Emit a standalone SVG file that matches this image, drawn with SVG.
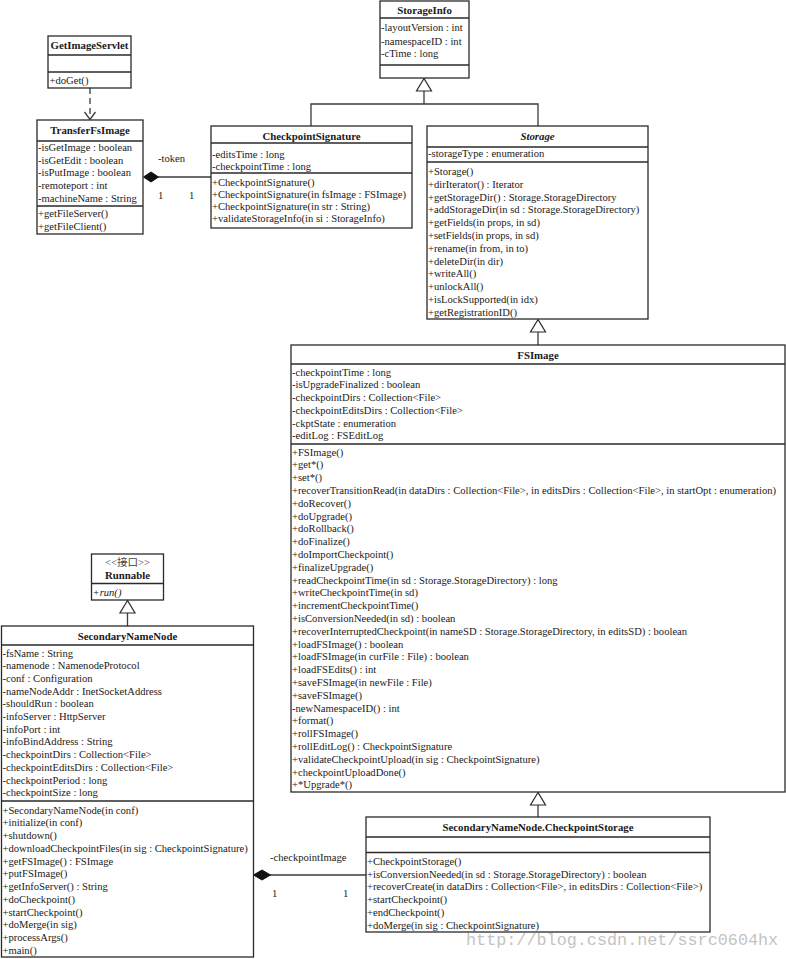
<svg xmlns="http://www.w3.org/2000/svg" width="786" height="959" viewBox="0 0 786 959">
<style>
.box{fill:#fff;stroke:#2a2a2a;stroke-width:1.3}
.div{stroke:#2a2a2a;stroke-width:1.3}
.ln{stroke:#3a3a3a;stroke-width:1.3;fill:none}
.tri{fill:#fff;stroke:#2a2a2a;stroke-width:1.2}
.dia{fill:#111;stroke:#111;stroke-width:1}
text{font-family:"Liberation Serif","Times New Roman",serif;font-size:10.6px;fill:#1a1a1a}
.t{font-weight:bold;text-anchor:middle;font-size:10.8px}
.lbl{font-size:10.6px}
.wm{font-family:"Liberation Mono","Courier New",monospace;font-size:16.8px;fill:#c4c4c4}
</style>
<rect width="786" height="959" fill="#fff"/>

<g id="connectors">
  <line class="ln" x1="90" y1="88" x2="90" y2="119" stroke-dasharray="6,4"/>
  <polyline class="ln" points="84.5,112 90,119.5 95.5,112"/>
  <line class="ln" x1="158" y1="177" x2="211" y2="177"/>
  <polygon class="dia" points="143.5,177 151,172 158.5,177 151,182"/>
  <text x="158" y="162" class="lbl">-token</text>
  <text x="158" y="199" class="lbl">1</text>
  <text x="189" y="199" class="lbl">1</text>
  <polyline class="ln" points="311,126 311,104 538,104 538,126"/>
  <line class="ln" x1="424" y1="91" x2="424" y2="104"/>
  <polygon class="tri" points="424,78.5 416.5,91 431.5,91"/>
  <line class="ln" x1="538" y1="332" x2="538" y2="345"/>
  <polygon class="tri" points="538,319.5 530.5,332 545.5,332"/>
  <line class="ln" x1="538" y1="805" x2="538" y2="817"/>
  <polygon class="tri" points="538,792.5 530.5,805 545.5,805"/>
  <line class="ln" x1="127.5" y1="613" x2="127.5" y2="626"/>
  <polygon class="tri" points="127.5,600.5 120,613 135,613"/>
  <line class="ln" x1="270" y1="875" x2="366" y2="875"/>
  <polygon class="dia" points="253.5,875 262,870 270.5,875 262,880"/>
  <text x="270" y="861" class="lbl">-checkpointImage</text>
  <text x="272" y="897" class="lbl">1</text>
  <text x="343" y="897" class="lbl">1</text>
</g>

<g id="GetImageServlet">
  <rect class="box" x="48" y="36" width="83" height="52"/>
  <line class="div" x1="48" y1="55" x2="131" y2="55"/>
  <line class="div" x1="48" y1="72" x2="131" y2="72"/>
  <text class="t" x="89.5" y="49">GetImageServlet</text>
  <text x="49.5" y="84">+doGet()</text>
</g>

<g id="TransferFsImage">
  <rect class="box" x="37" y="120" width="106" height="114"/>
  <line class="div" x1="37" y1="141" x2="143" y2="141"/>
  <line class="div" x1="37" y1="206" x2="143" y2="206"/>
  <text class="t" x="90" y="133.5">TransferFsImage</text>
  <text x="38" y="151">-isGetImage : boolean</text>
  <text x="38" y="163.7">-isGetEdit : boolean</text>
  <text x="38" y="176.4">-isPutImage : boolean</text>
  <text x="38" y="189.1">-remoteport : int</text>
  <text x="38" y="201.8">-machineName : String</text>
  <text x="38" y="217">+getFileServer()</text>
  <text x="38" y="230">+getFileClient()</text>
</g>

<g id="CheckpointSignature">
  <rect class="box" x="211" y="126" width="201" height="102"/>
  <line class="div" x1="211" y1="143" x2="412" y2="143"/>
  <line class="div" x1="211" y1="173" x2="412" y2="173"/>
  <text class="t" x="311.5" y="140">CheckpointSignature</text>
  <text x="212" y="158">-editsTime : long</text>
  <text x="212" y="170">-checkpointTime : long</text>
  <text x="212" y="185.7">+CheckpointSignature()</text>
  <text x="212" y="197.7">+CheckpointSignature(in fsImage : FSImage)</text>
  <text x="212" y="209.8">+CheckpointSignature(in str : String)</text>
  <text x="212" y="222.2">+validateStorageInfo(in si : StorageInfo)</text>
</g>

<g id="StorageInfo">
  <rect class="box" x="380" y="1" width="89" height="77"/>
  <line class="div" x1="380" y1="18" x2="469" y2="18"/>
  <line class="div" x1="380" y1="65" x2="469" y2="65"/>
  <text class="t" x="424.5" y="14">StorageInfo</text>
  <text x="381" y="31">-layoutVersion : int</text>
  <text x="381" y="44.5">-namespaceID : int</text>
  <text x="381" y="57">-cTime : long</text>
</g>

<g id="Storage">
  <rect class="box" x="427" y="126" width="221" height="193"/>
  <line class="div" x1="427" y1="147" x2="648" y2="147"/>
  <line class="div" x1="427" y1="162" x2="648" y2="162"/>
  <text class="t" x="537.5" y="140" font-style="italic">Storage</text>
  <text x="428" y="157">-storageType : enumeration</text>
  <text x="428" y="175">+Storage()</text>
  <text x="428" y="187.8">+dirIterator() : Iterator</text>
  <text x="428" y="200.6">+getStorageDir() : Storage.StorageDirectory</text>
  <text x="428" y="213.4">+addStorageDir(in sd : Storage.StorageDirectory)</text>
  <text x="428" y="226.2">+getFields(in props, in sd)</text>
  <text x="428" y="239">+setFields(in props, in sd)</text>
  <text x="428" y="251.8">+rename(in from, in to)</text>
  <text x="428" y="264.6">+deleteDir(in dir)</text>
  <text x="428" y="277.4">+writeAll()</text>
  <text x="428" y="290.2">+unlockAll()</text>
  <text x="428" y="303">+isLockSupported(in idx)</text>
  <text x="428" y="315.8">+getRegistrationID()</text>
</g>

<g id="FSImage">
  <rect class="box" x="291" y="345" width="494" height="447"/>
  <line class="div" x1="291" y1="364" x2="785" y2="364"/>
  <line class="div" x1="291" y1="444" x2="785" y2="444"/>
  <text class="t" x="538" y="359">FSImage</text>
  <text x="292" y="375.7">-checkpointTime : long</text>
  <text x="292" y="388.4">-isUpgradeFinalized : boolean</text>
  <text x="292" y="401.1">-checkpointDirs : Collection&lt;File&gt;</text>
  <text x="292" y="413.8">-checkpointEditsDirs : Collection&lt;File&gt;</text>
  <text x="292" y="426.5">-ckptState : enumeration</text>
  <text x="292" y="439.2">-editLog : FSEditLog</text>
  <text x="292" y="455.5">+FSImage()</text>
  <text x="292" y="468.3">+get*()</text>
  <text x="292" y="481.1">+set*()</text>
  <text x="292" y="493.9">+recoverTransitionRead(in dataDirs : Collection&lt;File&gt;, in editsDirs : Collection&lt;File&gt;, in startOpt : enumeration)</text>
  <text x="292" y="506.7">+doRecover()</text>
  <text x="292" y="519.5">+doUpgrade()</text>
  <text x="292" y="532.3">+doRollback()</text>
  <text x="292" y="545.1">+doFinalize()</text>
  <text x="292" y="557.9">+doImportCheckpoint()</text>
  <text x="292" y="570.7">+finalizeUpgrade()</text>
  <text x="292" y="583.5">+readCheckpointTime(in sd : Storage.StorageDirectory) : long</text>
  <text x="292" y="596.3">+writeCheckpointTime(in sd)</text>
  <text x="292" y="609.1">+incrementCheckpointTime()</text>
  <text x="292" y="621.9">+isConversionNeeded(in sd) : boolean</text>
  <text x="292" y="634.7">+recoverInterruptedCheckpoint(in nameSD : Storage.StorageDirectory, in editsSD) : boolean</text>
  <text x="292" y="647.5">+loadFSImage() : boolean</text>
  <text x="292" y="660.3">+loadFSImage(in curFile : File) : boolean</text>
  <text x="292" y="673.1">+loadFSEdits() : int</text>
  <text x="292" y="685.9">+saveFSImage(in newFile : File)</text>
  <text x="292" y="698.7">+saveFSImage()</text>
  <text x="292" y="711.5">-newNamespaceID() : int</text>
  <text x="292" y="724.3">+format()</text>
  <text x="292" y="737.1">+rollFSImage()</text>
  <text x="292" y="749.9">+rollEditLog() : CheckpointSignature</text>
  <text x="292" y="762.7">+validateCheckpointUpload(in sig : CheckpointSignature)</text>
  <text x="292" y="775.5">+checkpointUploadDone()</text>
  <text x="292" y="788.3">+*Upgrade*()</text>
</g>

<g id="CheckpointStorage">
  <rect class="box" x="366" y="817" width="344" height="115"/>
  <line class="div" x1="366" y1="837" x2="710" y2="837"/>
  <line class="div" x1="366" y1="852.5" x2="710" y2="852.5"/>
  <text class="t" x="538" y="831">SecondaryNameNode.CheckpointStorage</text>
  <text x="367" y="864.7">+CheckpointStorage()</text>
  <text x="367" y="877.5">+isConversionNeeded(in sd : Storage.StorageDirectory) : boolean</text>
  <text x="367" y="890.3">+recoverCreate(in dataDirs : Collection&lt;File&gt;, in editsDirs : Collection&lt;File&gt;)</text>
  <text x="367" y="903.1">+startCheckpoint()</text>
  <text x="367" y="915.9">+endCheckpoint()</text>
  <text x="367" y="928.7">+doMerge(in sig : CheckpointSignature)</text>
</g>

<g id="Runnable">
  <rect class="box" x="91.5" y="554" width="72" height="46"/>
  <line class="div" x1="91.5" y1="583.5" x2="163.5" y2="583.5"/>
  <text x="127.5" y="566" text-anchor="middle" font-size="10" style="font-family:'Liberation Serif','Noto Sans CJK SC',serif;fill:#444">&lt;&lt;接口&gt;&gt;</text>
  <text class="t" x="127.5" y="579">Runnable</text>
  <text x="92.5" y="595.5" font-style="italic">+run()</text>
</g>

<g id="SecondaryNameNode">
  <rect class="box" x="1.5" y="626" width="252" height="331"/>
  <line class="div" x1="1.5" y1="645" x2="253.5" y2="645"/>
  <line class="div" x1="1.5" y1="801" x2="253.5" y2="801"/>
  <text class="t" x="127.5" y="640">SecondaryNameNode</text>
  <text x="2.5" y="656.5">-fsName : String</text>
  <text x="2.5" y="669.2">-namenode : NamenodeProtocol</text>
  <text x="2.5" y="681.9">-conf : Configuration</text>
  <text x="2.5" y="694.6">-nameNodeAddr : InetSocketAddress</text>
  <text x="2.5" y="707.3">-shouldRun : boolean</text>
  <text x="2.5" y="720">-infoServer : HttpServer</text>
  <text x="2.5" y="732.7">-infoPort : int</text>
  <text x="2.5" y="745.4">-infoBindAddress : String</text>
  <text x="2.5" y="758.1">-checkpointDirs : Collection&lt;File&gt;</text>
  <text x="2.5" y="770.8">-checkpointEditsDirs : Collection&lt;File&gt;</text>
  <text x="2.5" y="783.5">-checkpointPeriod : long</text>
  <text x="2.5" y="796.2">-checkpointSize : long</text>
  <text x="2.5" y="813.5">+SecondaryNameNode(in conf)</text>
  <text x="2.5" y="826.2">+initialize(in conf)</text>
  <text x="2.5" y="839">+shutdown()</text>
  <text x="2.5" y="851.7">+downloadCheckpointFiles(in sig : CheckpointSignature)</text>
  <text x="2.5" y="864.5">+getFSImage() : FSImage</text>
  <text x="2.5" y="877.2">+putFSImage()</text>
  <text x="2.5" y="890">+getInfoServer() : String</text>
  <text x="2.5" y="902.7">+doCheckpoint()</text>
  <text x="2.5" y="915.5">+startCheckpoint()</text>
  <text x="2.5" y="928.2">+doMerge(in sig)</text>
  <text x="2.5" y="941">+processArgs()</text>
  <text x="2.5" y="953.7">+main()</text>
</g>

<text class="wm" x="466" y="945">http://blog.csdn.net/ssrc0604hx</text>
</svg>
